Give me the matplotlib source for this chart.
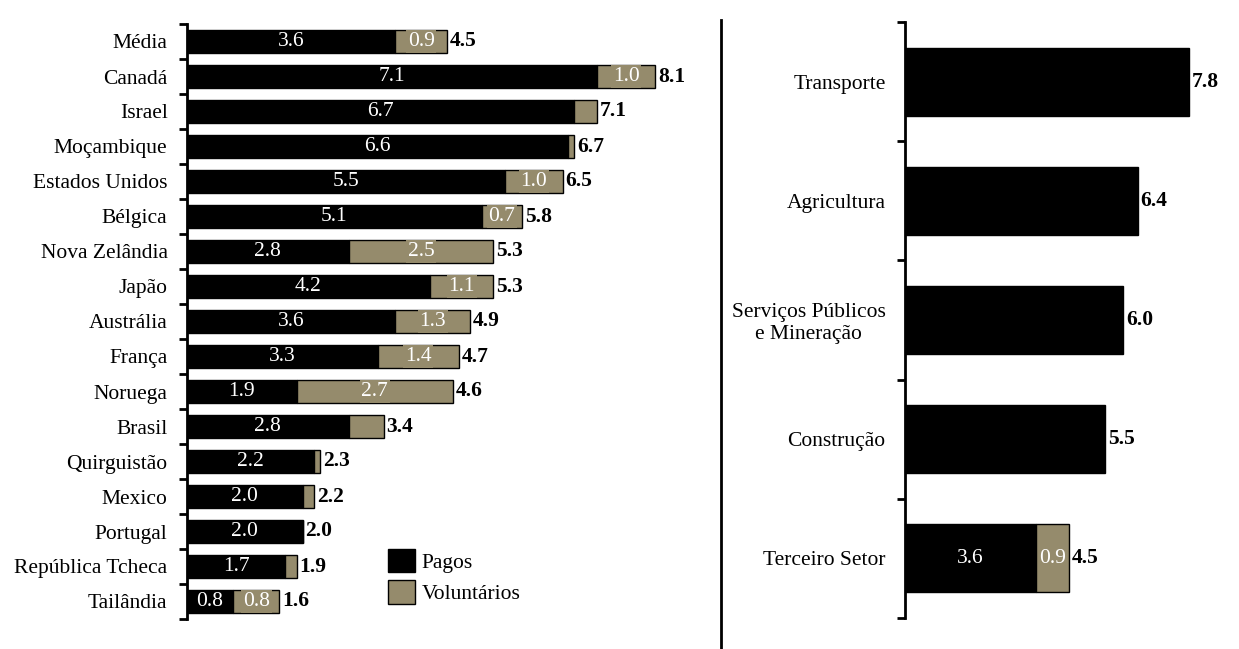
import numpy as np
import matplotlib.pyplot as plt
from matplotlib.lines import Line2D
from matplotlib.patches import Patch

plt.rcParams['font.family'] = ['Liberation Serif', 'DejaVu Serif']

# left panel: countries
paises = ['Média', 'Canadá', 'Israel', 'Moçambique', 'Estados Unidos', 'Bélgica',
          'Nova Zelândia', 'Japão', 'Austrália', 'França', 'Noruega', 'Brasil',
          'Quirguistão', 'Mexico', 'Portugal', 'República Tcheca', 'Tailândia']
pagos = [3.6, 7.1, 6.7, 6.6, 5.5, 5.1, 2.8, 4.2, 3.6, 3.3, 1.9, 2.8, 2.2, 2.0, 2.0, 1.7, 0.8]
voluntarios = [0.9, 1.0, 0.4, 0.1, 1.0, 0.7, 2.5, 1.1, 1.3, 1.4, 2.7, 0.6, 0.1, 0.2, 0.0, 0.2, 0.8]
totais = [4.5, 8.1, 7.1, 6.7, 6.5, 5.8, 5.3, 5.3, 4.9, 4.7, 4.6, 3.4, 2.3, 2.2, 2.0, 1.9, 1.6]

# right panel: sectors
setores = ['Transporte', 'Agricultura', 'Serviços Públicos\ne Mineração', 'Construção', 'Terceiro Setor']
setor_pagos = [7.8, 6.4, 6.0, 5.5, 3.6]
setor_vol = [0.0, 0.0, 0.0, 0.0, 0.9]
setor_totais = [7.8, 6.4, 6.0, 5.5, 4.5]

TAN = '#958b6c'
FS = 15.5
W, H = 1239, 649

fig = plt.figure(figsize=(W / 100, H / 100), dpi=100)

def style_axis(ax, n):
    for s in ['top', 'right', 'bottom']:
        ax.spines[s].set_visible(False)
    ax.spines['left'].set_linewidth(2)
    ax.set_xticks([])
    ax.set_ylim(n - 0.5, -0.5)
    ax.set_yticks(np.arange(n + 1) - 0.5, minor=False)
    ax.set_yticklabels([])
    ax.tick_params(axis='y', which='major', length=6, width=2, direction='out')
    ax.set_yticks(np.arange(n), minor=True)
    ax.set_yticklabels([], minor=True)
    ax.tick_params(axis='y', which='minor', length=0, pad=14, labelsize=FS)

# ---------- left ----------
axl = fig.add_axes([187 / W, 1 - 619 / H, 500 / W, 595 / H])
n = len(paises)
y = np.arange(n)
style_axis(axl, n)
axl.set_yticklabels(paises, minor=True)
axl.set_xlim(0, 500 / 57.8)
axl.barh(y, pagos, height=0.66, color='black', edgecolor='black', linewidth=1)
axl.barh(y, voluntarios, left=pagos, height=0.66, color=TAN, edgecolor='black', linewidth=1)
for i in range(n):
    axl.text(pagos[i] / 2, y[i], f'{pagos[i]:.1f}', ha='center', va='center', color='white',
             fontsize=FS, bbox=dict(facecolor='black', edgecolor='none', pad=1.2))
    if voluntarios[i] >= 0.7:
        axl.text(pagos[i] + voluntarios[i] / 2, y[i], f'{voluntarios[i]:.1f}', ha='center',
                 va='center', color='white', fontsize=FS,
                 bbox=dict(facecolor=TAN, edgecolor='none', pad=1.2))
    axl.annotate(f'{totais[i]:.1f}', (totais[i], y[i]), xytext=(2, 0), textcoords='offset points',
                 ha='left', va='center', fontsize=FS, fontweight='bold')

leg = fig.legend(handles=[Patch(facecolor='black', edgecolor='black', label='Pagos'),
                          Patch(facecolor=TAN, edgecolor='black', label='Voluntários')],
                 loc='upper left', bbox_to_anchor=(388 / W, 1 - 549 / H), frameon=False,
                 fontsize=FS, handlelength=1.25, handleheight=1.3, handletextpad=0.3,
                 labelspacing=0.35, borderpad=0, borderaxespad=0)

# divider
fig.add_artist(Line2D([721 / W, 721 / W], [1 - 20 / H, 1 - 648 / H], color='black', linewidth=2))

# ---------- right ----------
axr = fig.add_axes([905 / W, 1 - 618 / H, 330 / W, 596 / H])
m = len(setores)
yr = np.arange(m)
style_axis(axr, m)
axr.set_yticklabels(setores, minor=True, multialignment='center')
axr.set_xlim(0, 330 / 36.4)
axr.barh(yr, setor_pagos, height=0.57, color='black', edgecolor='black', linewidth=1)
axr.barh(yr, setor_vol, left=setor_pagos, height=0.57, color=TAN, edgecolor='black',
         linewidth=np.where(np.array(setor_vol) > 0, 1, 0))
for i in range(m):
    if setor_vol[i] > 0:
        axr.text(setor_pagos[i] / 2, yr[i], f'{setor_pagos[i]:.1f}', ha='center', va='center',
                 color='white', fontsize=FS)
        axr.text(setor_pagos[i] + setor_vol[i] / 2, yr[i], f'{setor_vol[i]:.1f}', ha='center',
                 va='center', color='white', fontsize=FS)
    axr.annotate(f'{setor_totais[i]:.1f}', (setor_totais[i], yr[i]), xytext=(2, 0),
                 textcoords='offset points', ha='left', va='center', fontsize=FS, fontweight='bold')

fig.savefig('out.png', dpi=100)
